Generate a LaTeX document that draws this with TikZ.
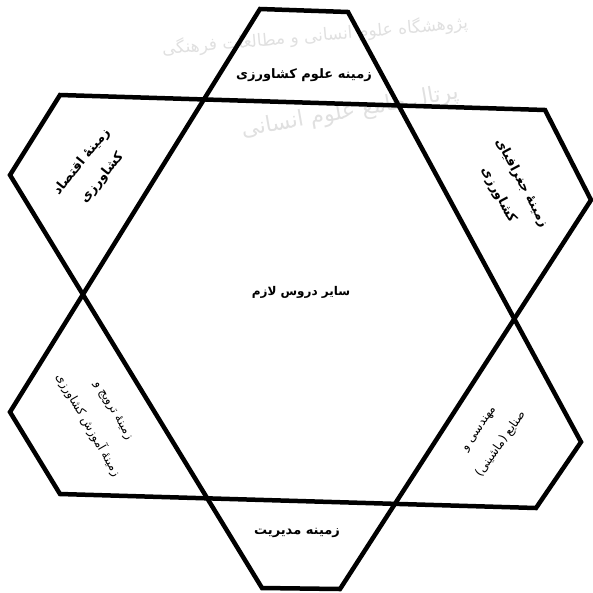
\documentclass[tikz,border=0pt]{standalone}
\usepackage{fontspec}
\TeXXeTstate=1
\newfontfamily\arabicfont[Script=Arabic]{DejaVu Sans}
\begin{document}
\begin{tikzpicture}[x=1pt, y=-1pt, every node/.style={font=\arabicfont\bfseries\fontsize{13}{26}\selectfont, align=center, inner sep=1pt}, side/.style={line width=4.5pt, line join=miter}, wmark/.style={text=black!12, font=\arabicfont\fontsize{17}{20}\selectfont}, thin label/.style={font=\arabicfont\fontsize{12}{30}\selectfont}]
        \useasboundingbox (0,0) rectangle (593,592);
        \node[wmark, rotate=5] (wmA) at (315,36) {\beginR پژوهشگاه علوم انسانی و مطالعات فرهنگی\endR};
        \node[wmark, rotate=10, font=\arabicfont\fontsize{22}{24}\selectfont] (wmB) at (350,112) {\beginR پرتال جامع علوم انسانی\endR};
        % upward shape
        \coordinate (a1) at (260,9);
        \coordinate (a2) at (348,12);
        \coordinate (a3) at (581,442);
        \coordinate (a4) at (536,508);
        \coordinate (a5) at (60,494);
        \coordinate (a6) at (10,412);
        \draw[side] (a1) -- (a2) -- (a3) -- (a4) -- (a5) -- (a6) -- cycle;
        % downward shape
        \coordinate (b1) at (60,95);
        \coordinate (b2) at (545,110);
        \coordinate (b3) at (591,200);
        \coordinate (b4) at (340,589);
        \coordinate (b5) at (262,588);
        \coordinate (b6) at (10,175);
        \draw[side] (b1) -- (b2) -- (b3) -- (b4) -- (b5) -- (b6) -- cycle;
        % labels
        \node (agri) at (304,75) {\beginR زمینه علوم کشاورزی\endR};
        \node[font=\arabicfont\bfseries\fontsize{12}{14}\selectfont] (rest) at (301,292) {\beginR سایر دروس لازم\endR};
        \node (mgmt) at (297,533) {\beginR زمینه مدیریت\endR};
        \node[rotate=51] (econ) at (92,170) {\beginR زمینهٔ اقتصاد\endR\\\beginR کشاورزی\endR};
        \node[rotate=-62] (geo) at (510,189) {\beginR زمینهٔ جغرافیای\endR\\\beginR کشاورزی\endR};
        \node[thin label, rotate=-60] (edu) at (100,418) {\beginR زمینهٔ ترویج و\endR\\\beginR زمینهٔ آموزش کشاورزی\endR};
        \node[thin label, rotate=55, font=\arabicfont\fontsize{12}{27}\selectfont] (eng) at (491,437) {\beginR مهندسی و\endR\\\beginR صنایع (ماشینی)\endR};
    \end{tikzpicture}
\end{document}
